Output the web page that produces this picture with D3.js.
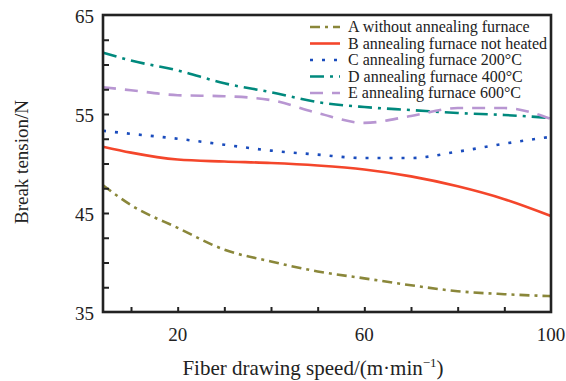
<!DOCTYPE html>
<html>
<head>
<meta charset="utf-8">
<script src="https://cdn.jsdelivr.net/npm/d3@7"></script>
<style>
  body { margin: 0; background: #fff; }
</style>
</head>
<body>
<svg id="chart"></svg>
<script>
// fiber drawing speed, m/min
const SPEEDS = [4, 10, 20, 30, 40, 50, 60, 70, 80, 90, 100]
const SERIES_A = [47.8, 45.8, 43.5, 41.3, 40.1, 39.1, 38.4, 37.7, 37.1, 36.8, 36.6]
const SERIES_B = [51.7, 51.1, 50.4, 50.2, 50.05, 49.8, 49.4, 48.7, 47.7, 46.4, 44.7]
const SERIES_C = [53.3, 53.0, 52.5, 51.9, 51.3, 50.9, 50.55, 50.55, 51.2, 52.0, 52.7]
const SERIES_D = [61.2, 60.4, 59.4, 58.1, 57.2, 56.2, 55.7, 55.4, 55.1, 54.9, 54.6]
const SERIES_E = [57.7, 57.4, 56.9, 56.8, 56.4, 55.1, 54.1, 54.8, 55.6, 55.6, 54.5]
const LABELS = ['A without annealing furnace', 'B annealing furnace not heated',
  'C annealing furnace 200\u00b0C', 'D annealing furnace 400\u00b0C', 'E annealing furnace 600\u00b0C']
const X_TICKS = [20, 60, 100]
const Y_TICKS = [35, 45, 55, 65]

const STYLES = [
  { color: '#8a873a', dash: '10,5,3,5' },
  { color: '#f4462b', dash: null },
  { color: '#1a4cbd', dash: '3,9' },
  { color: '#00897d', dash: '14,6,3,6' },
  { color: '#b896d2', dash: '13,9' },
]

const width = 566, height = 381
const margin = { top: 15, right: 15, bottom: 69, left: 103 }
const FONT = 'Liberation Serif'

const svg = d3.select('#chart')
  .attr('width', width)
  .attr('height', height)

const x = d3.scaleLinear().domain([4, 100]).range([margin.left, width - margin.right])
const y = d3.scaleLinear().domain([35, 65]).range([height - margin.bottom, margin.top])

const series = [SERIES_A, SERIES_B, SERIES_C, SERIES_D, SERIES_E]

const line = d3.line()
  .x((d, i) => x(SPEEDS[i]))
  .y(d => y(d))
  .curve(d3.curveMonotoneX)

svg.append('g')
  .selectAll('path').data(series)
  .enter().append('path')
    .attr('d', d => line(d))
    .attr('fill', 'none')
    .attr('stroke', (d, i) => STYLES[i].color)
    .attr('stroke-width', 2.6)
    .attr('stroke-dasharray', (d, i) => STYLES[i].dash)

// axes, ticks point inward
const bottom = height - margin.bottom
svg.append('g')
  .attr('transform', 'translate(0,' + bottom + ')')
  .call(d3.axisBottom(x).tickValues(d3.range(10, 100, 10)).tickSize(-5).tickFormat(''))
svg.append('g')
  .attr('transform', 'translate(' + margin.left + ',0)')
  .call(d3.axisLeft(y).tickValues(d3.range(37.5, 65, 2.5)).tickSize(-6).tickFormat(''))
svg.selectAll('.domain').remove()
svg.selectAll('.tick line').attr('stroke', '#222').attr('stroke-width', 2)

svg.append('rect')
  .attr('x', margin.left)
  .attr('y', margin.top)
  .attr('width', width - margin.left - margin.right)
  .attr('height', bottom - margin.top)
  .attr('fill', 'none')
  .attr('stroke', '#222')
  .attr('stroke-width', 2.6)

svg.append('g')
  .selectAll('text').data(X_TICKS)
  .enter().append('text')
    .attr('x', d => x(d))
    .attr('y', bottom + 29)
    .attr('text-anchor', 'middle')
    .attr('font-family', FONT)
    .attr('font-size', 19)
    .attr('fill', '#222')
    .text(d => d)

svg.append('g')
  .selectAll('text').data(Y_TICKS)
  .enter().append('text')
    .attr('x', margin.left - 9)
    .attr('y', d => y(d) + 8)
    .attr('text-anchor', 'end')
    .attr('font-family', FONT)
    .attr('font-size', 19)
    .attr('fill', '#222')
    .text(d => d)

svg.append('text')
  .attr('transform', 'translate(28,162) rotate(-90)')
  .attr('text-anchor', 'middle')
  .attr('font-family', FONT)
  .attr('font-size', 19)
  .attr('fill', '#222')
  .text('Break tension/N')

const xt = svg.append('text')
  .attr('x', 313)
  .attr('y', 375)
  .attr('text-anchor', 'middle')
  .attr('font-family', FONT)
  .attr('font-size', 21)
  .attr('fill', '#222')
xt.append('tspan').text('Fiber drawing speed/(m\u00b7min')
xt.append('tspan').attr('dy', -8).attr('font-size', 13).text('\u22121')
xt.append('tspan').attr('dy', 8).text(')')

// legend
const legend = svg.append('g')
  .selectAll('g').data(LABELS)
  .enter().append('g')
    .attr('transform', (d, i) => 'translate(310,' + (27 + i * 16.5) + ')')
legend.append('line')
  .attr('x1', 0).attr('x2', 30)
  .attr('stroke', (d, i) => STYLES[i].color)
  .attr('stroke-width', 2.6)
  .attr('stroke-dasharray', (d, i) => STYLES[i].dash)
legend.append('text')
  .attr('x', 38)
  .attr('y', 5)
  .attr('font-family', FONT)
  .attr('font-size', 16)
  .attr('fill', '#222')
  .text(d => d)
</script>
</body>
</html>
